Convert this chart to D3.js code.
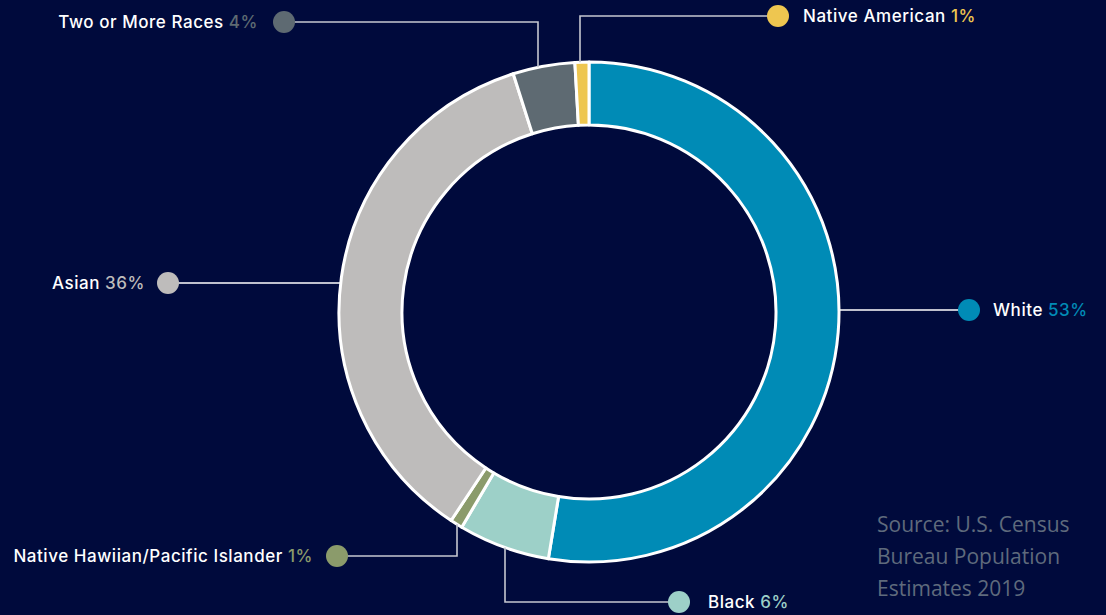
<!DOCTYPE html>
<html>
<head>
<meta charset="utf-8">
<script src="https://cdn.jsdelivr.net/npm/d3@7"></script>
<style>
  html, body { margin: 0; padding: 0; background: #000a3c; }
  svg { display: block; }
  .lbl { font-family: "Inter", "Noto Sans", sans-serif; font-size: 17px; font-weight: 500; letter-spacing: 0.55px; }
  .src { font-family: "Open Sans", "Noto Sans", sans-serif; font-size: 21px; fill: #5f6a7c; }
</style>
</head>
<body>
<div id="chart"></div>
<script>
// data (share of population, %)
const categories = ["White", "Black", "Native Hawiian/Pacific Islander", "Asian", "Two or More Races", "Native American"]
const shares = [52.6, 5.9, 0.8, 35.8, 4.0, 0.9]
const colors = ["#008bb6", "#9dd0c8", "#8b9b6b", "#bebcbb", "#5e6a72", "#eec650"]
const sourceLines = ["Source: U.S. Census", "Bureau Population", "Estimates 2019"]

const width = 1106, height = 615
const cx = 589, cy = 312, outerR = 250, innerR = 187

// label placement: dot position, optional elbow x, which side text goes
const labelLayout = [
  { dot: [969, 310], elbow: null, side: "right", gap: 24 },
  { dot: [679, 602], elbow: 505, side: "right", gap: 29 },
  { dot: [337, 556], elbow: 457, side: "left", gap: 24 },
  { dot: [168, 283], elbow: null, side: "left", gap: 23 },
  { dot: [284, 22], elbow: 538, side: "left", gap: 26 },
  { dot: [778, 16], elbow: 580, side: "right", gap: 25 }
]

const data = categories.map((c, i) => ({ name: c, value: shares[i], color: colors[i], layout: labelLayout[i] }))

const svg = d3.select("#chart").append("svg")
  .attr("width", width)
  .attr("height", height)

svg.append("rect").attr("width", width).attr("height", height).attr("fill", "#000a3c")

const pie = d3.pie().value(d => d.value).sort(null)
const arc = d3.arc().innerRadius(innerR).outerRadius(outerR)

const g = svg.append("g").attr("transform", "translate(" + cx + "," + cy + ")")

g.selectAll("path.slice")
  .data(pie(data))
  .enter().append("path")
  .attr("class", "slice")
  .attr("d", arc)
  .attr("fill", d => d.data.color)
  .attr("stroke", "#ffffff")
  .attr("stroke-width", 3)
  .attr("stroke-linejoin", "round")

// connectors: horizontal from dot, then (maybe) vertical to the ring's outer edge
const connector = function (d) {
  const L = d.layout
  const [dx, dy] = L.dot
  if (L.elbow == null) {
    const off = Math.sqrt(outerR * outerR - (dy - cy) * (dy - cy))
    const ex = dx > cx ? cx + off : cx - off
    return [[dx, dy], [ex, dy]]
  }
  const off = Math.sqrt(outerR * outerR - (L.elbow - cx) * (L.elbow - cx))
  const ey = dy > cy ? cy + off : cy - off
  return [[dx, dy], [L.elbow, dy], [L.elbow, ey]]
}

const lines = svg.append("g")
lines.selectAll("path")
  .data(data)
  .enter().append("path")
  .attr("d", d => d3.line()(connector(d)))
  .attr("fill", "none")
  .attr("stroke", d => d.layout.elbow == null ? "#ffffff" : "#c5c7d0")
  .attr("stroke-width", 1.6)

svg.append("g").selectAll("circle")
  .data(data)
  .enter().append("circle")
  .attr("cx", d => d.layout.dot[0])
  .attr("cy", d => d.layout.dot[1])
  .attr("r", 11)
  .attr("fill", d => d.color)

const fmt = d => Math.round(d) + "%"

const texts = svg.append("g").selectAll("text")
  .data(data)
  .enter().append("text")
  .attr("class", "lbl")
  .attr("x", d => d.layout.side === "right" ? d.layout.dot[0] + d.layout.gap : d.layout.dot[0] - d.layout.gap)
  .attr("y", d => d.layout.dot[1])
  .attr("dy", "0.36em")
  .attr("text-anchor", d => d.layout.side === "right" ? "start" : "end")

texts.append("tspan").attr("fill", "#ffffff").text(d => d.name + " ")
texts.append("tspan").attr("fill", d => d.color).text(d => fmt(d.value))

svg.append("g").selectAll("text")
  .data(sourceLines)
  .enter().append("text")
  .attr("class", "src")
  .attr("x", 877)
  .attr("y", (d, i) => 532 + i * 32)
  .text(d => d)
</script>
</body>
</html>
